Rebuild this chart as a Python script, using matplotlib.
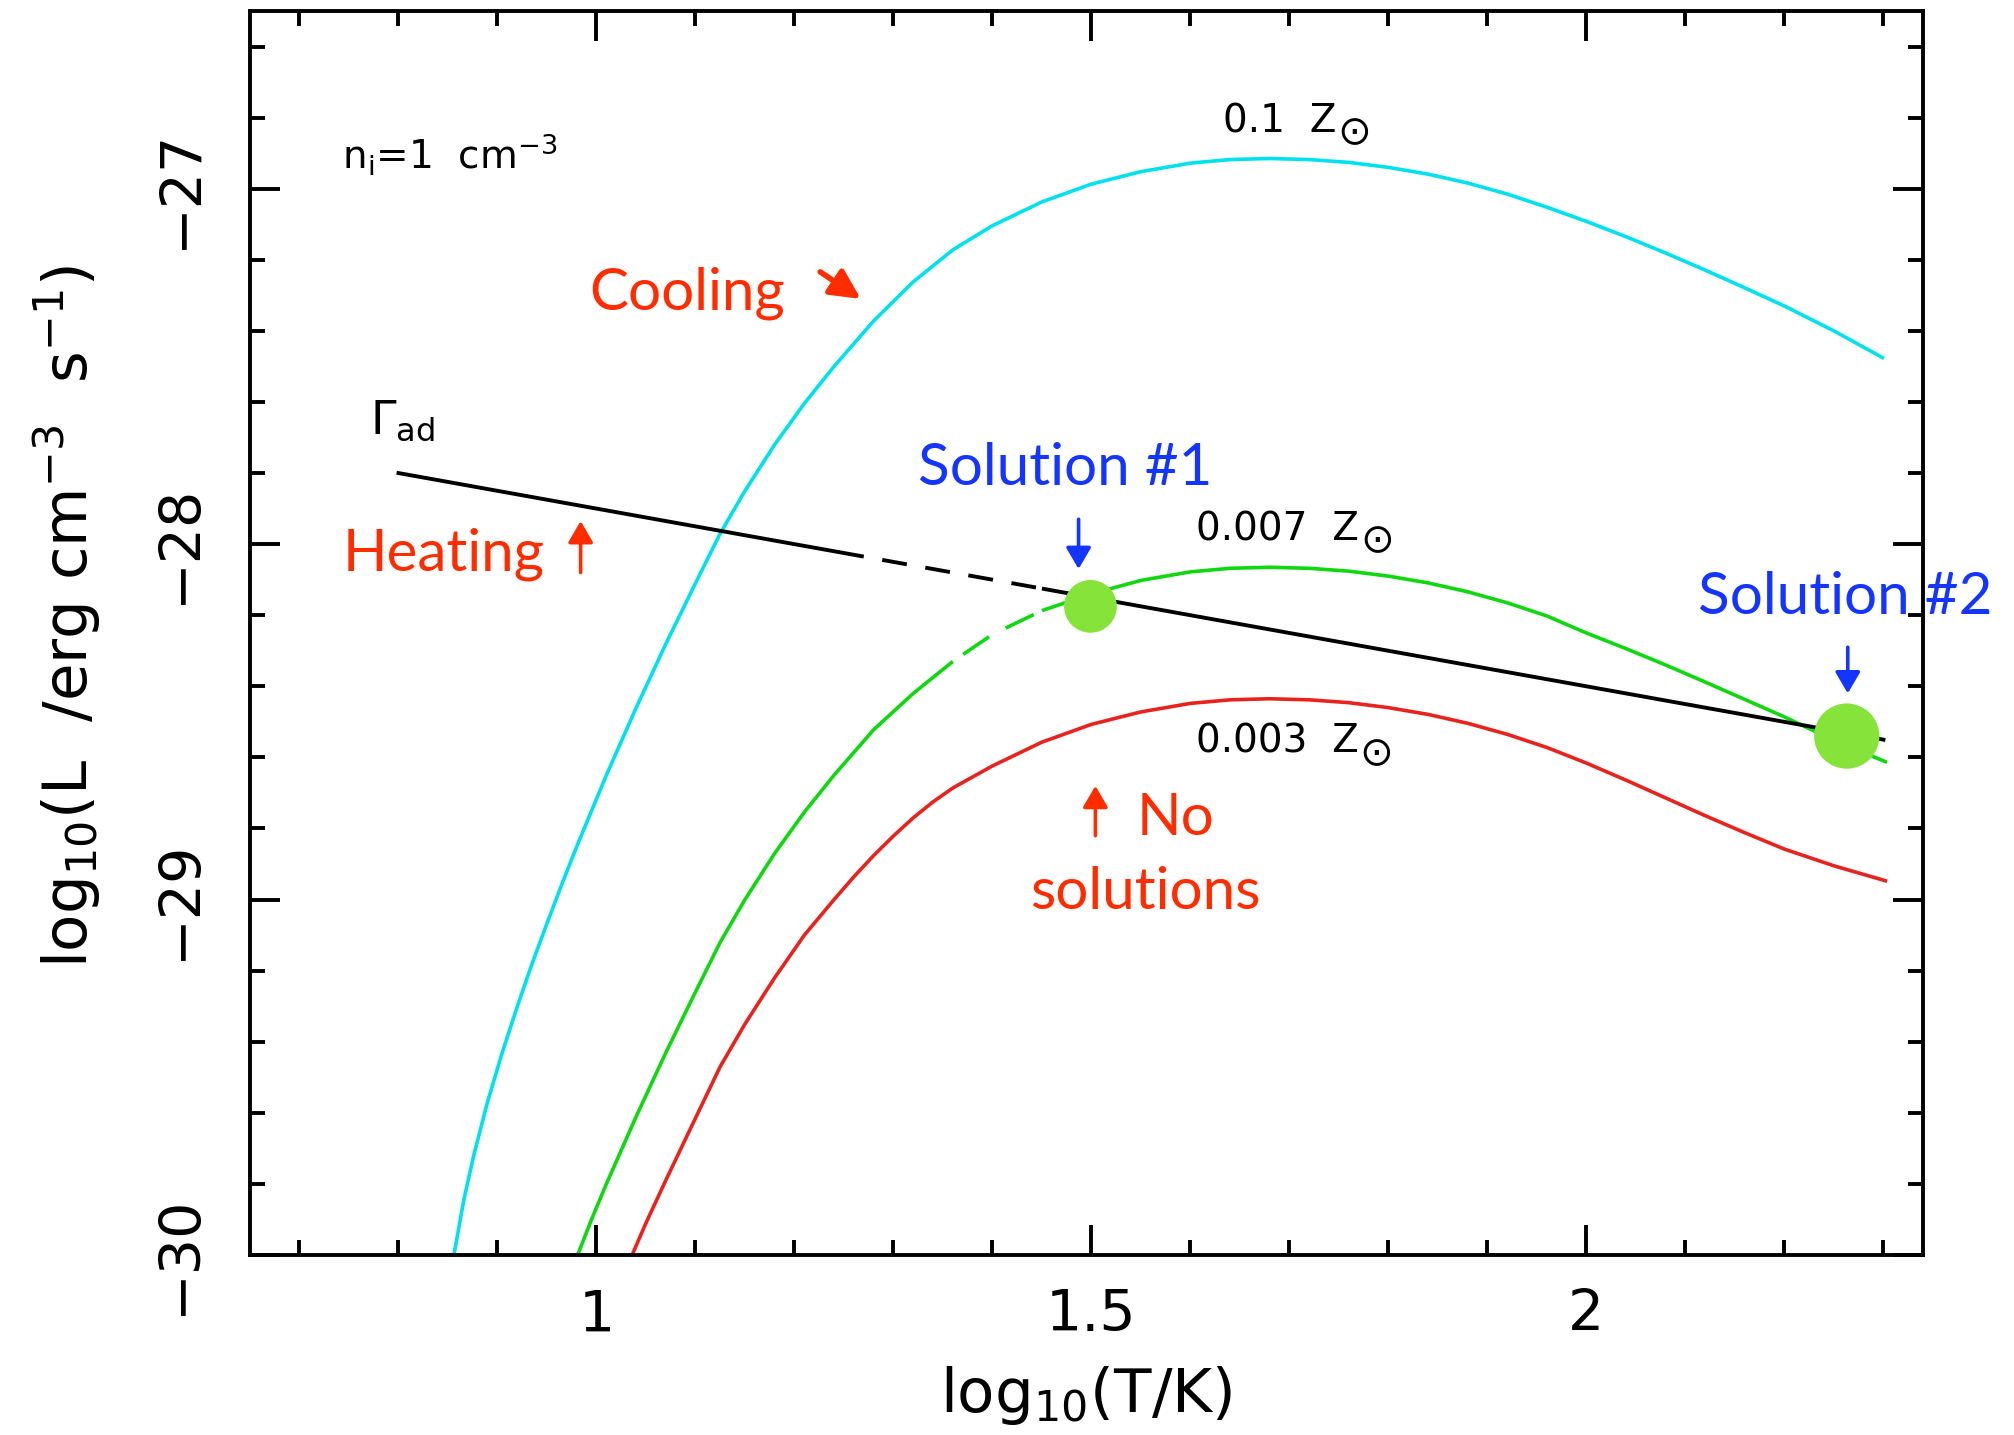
import numpy as np
import matplotlib.pyplot as plt
from matplotlib.ticker import MultipleLocator

# log10(T/K) vs log10(L) cooling curves for three metallicities
cyan_x = [0.856, 0.866, 0.876, 0.890, 0.905, 0.920, 0.935, 0.950, 0.965, 0.980, 1.010, 1.040,
          1.070, 1.100, 1.125, 1.150, 1.180, 1.210, 1.240, 1.280, 1.320, 1.360, 1.400, 1.450,
          1.500, 1.550, 1.600, 1.640, 1.680, 1.720, 1.760, 1.800, 1.840, 1.880, 1.920, 1.960,
          2.000, 2.040, 2.080, 2.120, 2.160, 2.200, 2.250, 2.299]
cyan_y = [-30.000, -29.845, -29.720, -29.569, -29.429, -29.301, -29.180, -29.067, -28.957,
          -28.851, -28.650, -28.461, -28.281, -28.110, -27.970, -27.850, -27.720, -27.604,
          -27.500, -27.372, -27.262, -27.172, -27.104, -27.037, -26.987, -26.952, -26.928,
          -26.918, -26.915, -26.918, -26.926, -26.940, -26.959, -26.984, -27.015, -27.052,
          -27.092, -27.135, -27.181, -27.229, -27.279, -27.330, -27.400, -27.475]

green_x = [0.981, 0.995, 1.010, 1.040, 1.070, 1.100, 1.125, 1.150, 1.180, 1.210, 1.240, 1.280,
           1.320, 1.360, 1.400, 1.450, 1.500, 1.550, 1.600, 1.640, 1.680, 1.720, 1.760, 1.800,
           1.840, 1.880, 1.920, 1.960, 2.000, 2.040, 2.080, 2.120, 2.160, 2.200, 2.250, 2.302]
green_y = [-30.000, -29.900, -29.800, -29.611, -29.431, -29.260, -29.120, -29.000, -28.870,
           -28.754, -28.650, -28.522, -28.420, -28.330, -28.254, -28.187, -28.140, -28.102,
           -28.078, -28.068, -28.065, -28.068, -28.076, -28.090, -28.109, -28.134, -28.165,
           -28.202, -28.250, -28.294, -28.340, -28.388, -28.437, -28.486, -28.552, -28.612]

red_x = [1.036, 1.050, 1.070, 1.100, 1.125, 1.150, 1.180, 1.210, 1.240, 1.260, 1.280, 1.300,
         1.320, 1.340, 1.360, 1.400, 1.450, 1.500, 1.550, 1.600, 1.640, 1.680, 1.720, 1.760,
         1.800, 1.840, 1.880, 1.920, 1.960, 2.000, 2.040, 2.080, 2.120, 2.160, 2.200, 2.250, 2.302]
red_y = [-30.000, -29.910, -29.790, -29.615, -29.470, -29.350, -29.220, -29.100, -29.000,
         -28.936, -28.876, -28.821, -28.770, -28.725, -28.686, -28.624, -28.557, -28.507,
         -28.472, -28.448, -28.438, -28.435, -28.438, -28.446, -28.460, -28.479, -28.504,
         -28.535, -28.572, -28.616, -28.664, -28.714, -28.764, -28.812, -28.858, -28.905,
         -28.947]

# adiabatic heating rate
heat_x = [0.80, 2.30]
heat_y = [-27.80, -28.55]

# equilibrium points (heating = cooling)
sol_x = [1.499, 2.263]
sol_y = [-28.175, -28.540]

curve_labels = ['0.1  Z', '0.007  Z', '0.003  Z']
sun = '\u2299'
x_ticks = [1, 1.5, 2]
x_tick_labels = ['1', '1.5', '2']
y_ticks = [-30, -29, -28, -27]
y_tick_labels = ['\u221230', '\u221229', '\u221228', '\u221227']

c_cyan = '#00E1EE'
c_green = '#10D810'
c_red = '#E8231E'
c_dot = '#86E33A'
c_txt_red = '#FF2C00'
c_txt_blue = '#1434FF'

fig = plt.figure(figsize=(20.14, 14.35), dpi=100)
ax = fig.add_axes([250 / 2014, 1 - 1255 / 1435, 1673 / 2014, 1244 / 1435])

ax.plot(cyan_x, cyan_y, color=c_cyan, lw=2.6, zorder=2)
ax.plot(green_x, green_y, color=c_green, lw=2.6, zorder=2)
ax.plot(red_x, red_y, color=c_red, lw=2.6, zorder=2)
ax.plot(heat_x, heat_y, color='black', lw=2.8, zorder=3)

# white dashes laid over part of the heating line and the green curve
gx = np.array(green_x)
gy = np.array(green_y)
m = (gx > 1.33) & (gx < 1.47)
ax.plot(gx[m], gy[m], color='white', lw=4.5, linestyle=(1, (3, 5)), zorder=3.5)
seg_x = np.array([1.27, 1.45])
seg_y = np.interp(seg_x, heat_x, heat_y)
ax.plot(seg_x, seg_y, color='white', lw=4.5, linestyle=(0, (3, 4)), zorder=3.5)

ax.scatter(sol_x, sol_y, s=[38 ** 2, 47 ** 2], color=c_dot, edgecolors='none', zorder=4)

ax.set_xlim(0.65, 2.34)
ax.set_ylim(-30, -26.5)
ax.set_xticks(x_ticks, x_tick_labels)
ax.set_yticks(y_ticks, y_tick_labels, rotation=90, va='center')
ax.xaxis.set_minor_locator(MultipleLocator(0.1))
ax.yaxis.set_minor_locator(MultipleLocator(0.2))
ax.tick_params(which='both', direction='in', top=True, right=True, width=2.8)
ax.tick_params(which='major', length=21.5)
ax.tick_params(which='minor', length=10.5)
ax.tick_params(axis='x', pad=24, labelsize=41)
ax.tick_params(axis='y', pad=30, labelsize=41)
for s in ax.spines.values():
    s.set_linewidth(2.8)

ax.set_xlabel(r'log$_{10}$(T/K)', fontsize=44)
ax.xaxis.set_label_coords(0.5, -0.088)
ax.xaxis.label.set_va('top')
ax.set_ylabel(r'log$_{10}$(L  /erg cm$^{-3}$  s$^{-1}$)', fontsize=44)
ax.yaxis.set_label_coords(-0.088, 0.513)

# black labels
ax.text(0.743, -26.943, r'n$_{\rm i}$=1  cm$^{-3}$', fontsize=28)
ax.text(0.771, -27.69, r'$\Gamma_{\rm ad}$', fontsize=33)
label_pos = [(1.633, -26.841), (1.606, -27.989), (1.606, -28.587)]
for (lx, ly), lab in zip(label_pos, curve_labels):
    t = ax.text(lx, ly, lab, fontsize=28)
    ax.annotate(sun, xy=(1, 0), xycoords=t, xytext=(0.5, 5), textcoords='offset points',
                fontsize=29, ha='left', va='center')

# red / blue annotations
ann = dict(fontsize=42, family=['Lato', 'DejaVu Sans'], zorder=5)
ax.text(0.993, -27.339, 'Cooling', color=c_txt_red, **ann)
ax.text(0.744, -28.074, 'Heating', color=c_txt_red, **ann)
ax.text(1.546, -28.817, 'No', color=c_txt_red, **ann)
ax.text(1.438, -29.027, 'solutions', color=c_txt_red, **ann)
ax.text(1.325, -27.835, 'Solution #1', color=c_txt_blue, **ann)
ax.text(2.113, -28.197, 'Solution #2', color=c_txt_blue, **ann)


def arrow(x0, y0, x1, y1, color, lw=2.6, hl=0.65, hw=0.38):
    ax.annotate('', xy=(x1, y1), xytext=(x0, y0),
                arrowprops=dict(arrowstyle='-|>,head_length=%g,head_width=%g' % (hl, hw),
                                color=color, lw=lw, mutation_scale=20,
                                shrinkA=0, shrinkB=0), zorder=5)


arrow(1.226, -27.234, 1.267, -27.31, c_txt_red, lw=4, hl=0.9, hw=0.45)
arrow(0.984, -28.08, 0.984, -27.935, c_txt_red)
arrow(1.504, -28.82, 1.504, -28.68, c_txt_red)
arrow(1.487, -27.93, 1.487, -28.07, c_txt_blue)
arrow(2.264, -28.29, 2.264, -28.42, c_txt_blue)

plt.savefig('out.png', dpi=100)
